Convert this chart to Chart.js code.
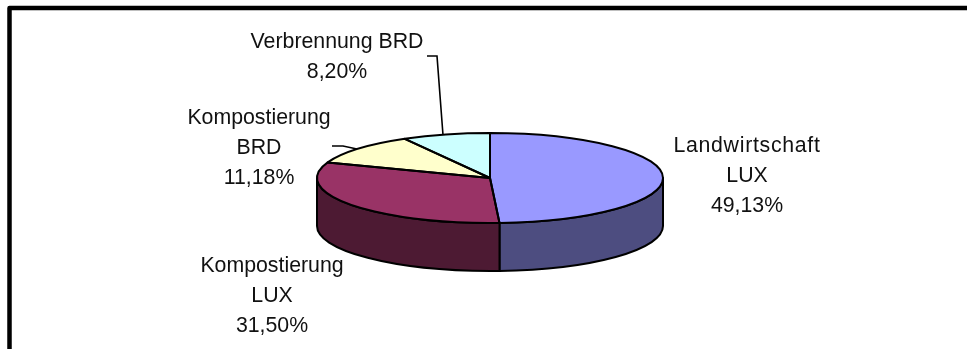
<!DOCTYPE html>
<html lang="de">
<head>
<meta charset="utf-8">
<title>Verwertung</title>
<script src="https://cdn.jsdelivr.net/npm/chart.js@4"></script>
<style>
    html, body { margin: 0; padding: 0; background: #fff; overflow: hidden; }
    #chart { display: block; }
</style>
</head>
<body>
<canvas id="chart" width="967" height="349"></canvas>
<script>
const labelLines = [
    ['Landwirtschaft', 'LUX'],
    ['Kompostierung', 'LUX'],
    ['Kompostierung', 'BRD'],
    ['Verbrennung BRD']
];
const shares = [49.13, 31.50, 11.18, 8.20];
const topColors = ['#9999ff', '#993366', '#ffffcc', '#ccffff'];
const wallColors = ['#4d4d80', '#4d1a33', '#80805f', '#5f8080'];

// where each label block sits: centre x and first baseline
const labelAnchors = [
    { x: 747, y: 152 },
    { x: 272, y: 272 },
    { x: 259, y: 124 },
    { x: 337, y: 48 }
];
const leaders = [
    null,
    null,
    [[332, 146], [343, 146], [357, 149]],
    [[427, 56], [437, 56], [443, 135]]
];

const CENTER_Y = 178;
const RADIUS_Y = 45;
const DEPTH = 48;
const LINE_HEIGHT = 30;

function sliceFrame(chart) {
    const arcs = chart.getDatasetMeta(0).data;
    const first = arcs[0];
    return { arcs, cx: first.x, cy: first.y, rx: first.outerRadius };
}

const tiltedPie = {
    id: 'tiltedPie',
    beforeDatasetsDraw(chart) {
        const { ctx } = chart;
        const { arcs, cx, cy, rx } = sliceFrame(chart);

        // only the front half of the rim is visible
        ctx.save();
        ctx.strokeStyle = '#000';
        ctx.lineWidth = 2;
        ctx.lineJoin = 'round';
        arcs.forEach((arc, i) => {
            const a0 = Math.max(arc.startAngle, 0);
            const a1 = Math.min(arc.endAngle, Math.PI);
            if (a1 <= a0) return;
            ctx.beginPath();
            ctx.ellipse(cx, CENTER_Y, rx, RADIUS_Y, 0, a0, a1);
            ctx.ellipse(cx, CENTER_Y + DEPTH, rx, RADIUS_Y, 0, a1, a0, true);
            ctx.closePath();
            ctx.fillStyle = wallColors[i];
            ctx.fill();
            ctx.stroke();
        });
        ctx.restore();

        // squash the round pie into the top face
        ctx.save();
        ctx.translate(0, CENTER_Y);
        ctx.scale(1, RADIUS_Y / rx);
        ctx.translate(0, -cy);
    },
    afterDatasetsDraw(chart) {
        const { ctx } = chart;
        ctx.restore();

        const { arcs, cx, rx } = sliceFrame(chart);
        ctx.save();
        ctx.strokeStyle = '#000';
        ctx.lineWidth = 2;
        ctx.lineJoin = 'round';
        arcs.forEach((arc) => {
            ctx.beginPath();
            ctx.moveTo(cx, CENTER_Y);
            ctx.ellipse(cx, CENTER_Y, rx, RADIUS_Y, 0, arc.startAngle, arc.endAngle);
            ctx.closePath();
            ctx.stroke();
        });
        ctx.restore();
    },
    afterDraw(chart) {
        const { ctx } = chart;
        ctx.save();

        // frame runs off the right and bottom edges
        ctx.strokeStyle = '#000';
        ctx.lineWidth = 4.5;
        ctx.lineJoin = 'round';
        ctx.beginPath();
        ctx.moveTo(9.5, chart.height);
        ctx.lineTo(9.5, 8);
        ctx.lineTo(chart.width, 8);
        ctx.stroke();

        ctx.lineWidth = 1.6;
        ctx.lineJoin = 'miter';
        for (const pts of leaders) {
            if (!pts) continue;
            ctx.beginPath();
            pts.forEach(([x, y], i) => (i ? ctx.lineTo(x, y) : ctx.moveTo(x, y)));
            ctx.stroke();
        }

        ctx.fillStyle = '#111';
        ctx.font = '21.3px "Liberation Sans", Arial, sans-serif';
        ctx.textAlign = 'center';
        ctx.textBaseline = 'alphabetic';
        shares.forEach((value, i) => {
            const text = [...labelLines[i], value.toFixed(2).replace('.', ',') + '%'];
            text.forEach((line, n) => {
                // the long word runs a little wider than the font's default spacing
                ctx.letterSpacing = line === 'Landwirtschaft' ? '0.7px' : '0px';
                ctx.fillText(line, labelAnchors[i].x, labelAnchors[i].y + n * LINE_HEIGHT);
            });
        });
        ctx.restore();
    }
};

new Chart(document.querySelector('#chart').getContext('2d'), {
    type: 'pie',
    data: {
        labels: labelLines.map((l) => l.join(' ')),
        datasets: [{
            data: shares,
            backgroundColor: topColors,
            borderWidth: 0,
            radius: 173
        }]
    },
    options: {
        responsive: false,
        animation: false,
        layout: { padding: { left: 13 } },
        plugins: {
            legend: { display: false },
            tooltip: { enabled: false }
        }
    },
    plugins: [tiltedPie]
});
</script>
</body>
</html>
